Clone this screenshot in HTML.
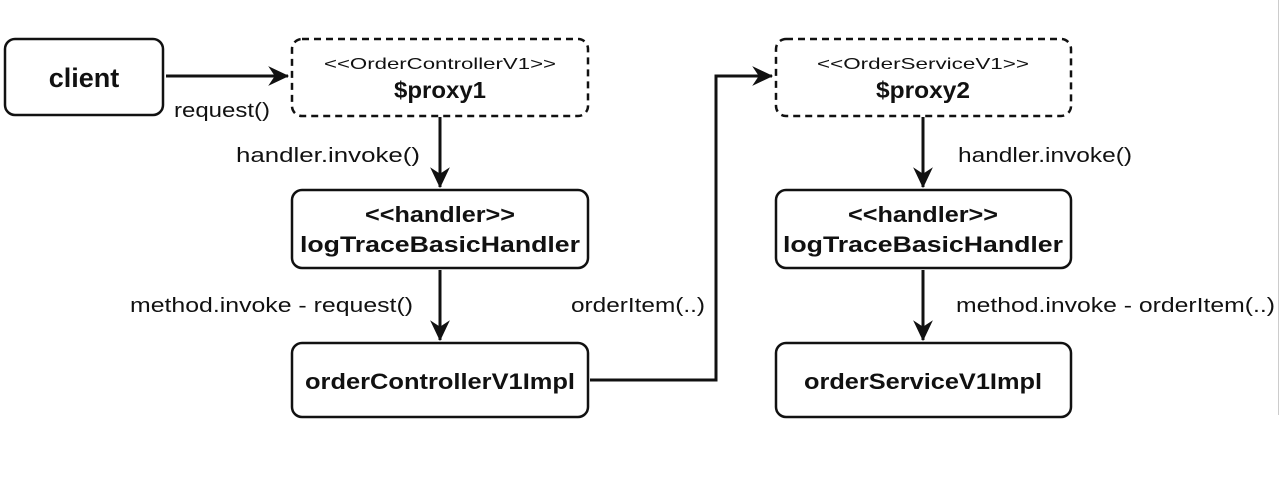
<!DOCTYPE html>
<html><head><style>body{margin:0;background:#fff}svg{display:block}</style></head><body>
<svg width="1280" height="484" viewBox="0 0 1280 484" xmlns="http://www.w3.org/2000/svg" font-family="Liberation Sans, Arial, sans-serif">
<defs>
<marker id="b" viewBox="0 0 20 20" markerWidth="22" markerHeight="22" refX="18" refY="10" orient="auto" markerUnits="userSpaceOnUse"><path d="M0,1 L19,10 L0,19 L6,10 Z" fill="#111"/></marker></defs>
<g fill="#fff" stroke="#111" stroke-width="2.5">
<rect x="5" y="39" width="158" height="76" rx="10"/>
<rect x="292" y="39" width="296" height="77" rx="10" stroke-dasharray="7,5"/>
<rect x="292" y="190" width="296" height="78" rx="10"/>
<rect x="292" y="343" width="296" height="74" rx="10"/>
<rect x="776" y="39" width="295" height="77" rx="10" stroke-dasharray="7,5"/>
<rect x="776" y="190" width="295" height="78" rx="10"/>
<rect x="776" y="343" width="295" height="74" rx="10"/>
</g>
<rect x="0" y="419" width="1280" height="70" fill="#fff"/>
<line x1="1278.5" y1="0" x2="1278.5" y2="415" stroke="#ccc" stroke-width="1"/>
<g stroke="#111" stroke-width="3" fill="none">
<line x1="166" y1="76" x2="288" y2="76" marker-end="url(#b)"/>
<line x1="440" y1="117" x2="440" y2="187" marker-end="url(#b)"/>
<line x1="440" y1="270" x2="440" y2="340" marker-end="url(#b)"/>
<line x1="923" y1="117" x2="923" y2="187" marker-end="url(#b)"/>
<line x1="923" y1="270" x2="923" y2="340" marker-end="url(#b)"/>
<polyline points="590,380 716,380 716,76 772,76" marker-end="url(#b)"/>
</g>
<g fill="#111" text-anchor="middle">
<text x="84" y="87" font-size="27" font-weight="bold">client</text>
<text x="440" y="69" font-size="16" textLength="232" lengthAdjust="spacingAndGlyphs">&lt;&lt;OrderControllerV1&gt;&gt;</text>
<text x="440" y="98" font-size="23" font-weight="bold" textLength="92" lengthAdjust="spacingAndGlyphs">$proxy1</text>
<text x="923" y="69" font-size="16" textLength="212" lengthAdjust="spacingAndGlyphs">&lt;&lt;OrderServiceV1&gt;&gt;</text>
<text x="923" y="98" font-size="23" font-weight="bold" textLength="94" lengthAdjust="spacingAndGlyphs">$proxy2</text>
<text x="440" y="222" font-size="22" font-weight="bold" textLength="150" lengthAdjust="spacingAndGlyphs">&lt;&lt;handler&gt;&gt;</text>
<text x="440" y="252" font-size="22" font-weight="bold" textLength="280" lengthAdjust="spacingAndGlyphs">logTraceBasicHandler</text>
<text x="923" y="222" font-size="22" font-weight="bold" textLength="150" lengthAdjust="spacingAndGlyphs">&lt;&lt;handler&gt;&gt;</text>
<text x="923" y="252" font-size="22" font-weight="bold" textLength="280" lengthAdjust="spacingAndGlyphs">logTraceBasicHandler</text>
<text x="440" y="389" font-size="22" font-weight="bold" textLength="270" lengthAdjust="spacingAndGlyphs">orderControllerV1Impl</text>
<text x="923" y="389" font-size="22" font-weight="bold" textLength="238" lengthAdjust="spacingAndGlyphs">orderServiceV1Impl</text>
</g>
<g fill="#111" font-size="20">
<text x="174" y="117" textLength="96" lengthAdjust="spacingAndGlyphs">request()</text>
<text x="236" y="162" textLength="184" lengthAdjust="spacingAndGlyphs">handler.invoke()</text>
<text x="130" y="312" textLength="283" lengthAdjust="spacingAndGlyphs">method.invoke - request()</text>
<text x="571" y="312" textLength="134" lengthAdjust="spacingAndGlyphs">orderItem(..)</text>
<text x="958" y="162" textLength="174" lengthAdjust="spacingAndGlyphs">handler.invoke()</text>
<text x="956" y="312" textLength="319" lengthAdjust="spacingAndGlyphs">method.invoke - orderItem(..)</text>
</g>
</svg>
</body></html>
